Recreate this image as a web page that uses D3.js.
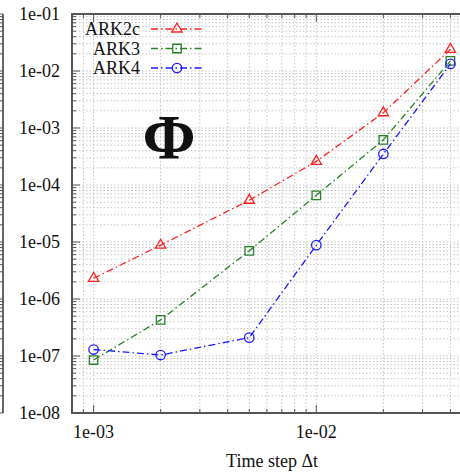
<!DOCTYPE html>
<html>
<head>
<meta charset="utf-8">
<script src="https://cdn.jsdelivr.net/npm/d3@7"></script>
<style>
  html, body { margin: 0; padding: 0; background: #fff; }
  svg { display: block; }
  text { font-family: "Liberation Serif", "DejaVu Serif", serif; fill: #111; }
</style>
</head>
<body>
<svg id="chart" width="460" height="472"></svg>
<script>
// Time steps
const steps = [1e-3, 2e-3, 5e-3, 1e-2, 2e-2, 4e-2];
// Error in Phi for each scheme
const ark2c = [2.3e-6, 8.8e-6, 5.4e-5, 2.6e-4, 1.85e-3, 2.4e-2];
const ark3  = [8.5e-8, 4.3e-7, 7.0e-6, 6.6e-5, 6.2e-4, 1.5e-2];
const ark4  = [1.3e-7, 1.04e-7, 2.1e-7, 8.8e-6, 3.5e-4, 1.33e-2];
const seriesNames = ["ARK2c", "ARK3", "ARK4"];
const xTickLabels = ["1e-03", "1e-02"];
const yTickLabels = ["1e-08", "1e-07", "1e-06", "1e-05", "1e-04", "1e-03", "1e-02", "1e-01"];

const colors = ["#f22", "#2a7f2a", "#1a1aff"];
const symbols = ["triangle", "square", "circle"];
const seriesData = [ark2c, ark3, ark4];

const svg = d3.select("#chart");
const pL = 72, pT = 14, pB = 413, pR = 472;

const x = d3.scaleLog().domain([8e-4, 5e-2]).range([pL, pR]);
const y = d3.scaleLog().domain([1e-8, 1e-1]).range([pB, pT]);

// all decade + sub-decade positions
function logTicks(lo, hi) {
  const out = [];
  for (let e = Math.floor(Math.log10(lo)); e <= Math.ceil(Math.log10(hi)); e++) {
    for (let m = 1; m <= 9; m++) {
      const v = m * Math.pow(10, e);
      if (v >= lo * 0.9999 && v <= hi * 1.0001) out.push({ v, major: m === 1 });
    }
  }
  return out;
}
const xt = logTicks(8e-4, 5e-2);
const yt = logTicks(1e-8, 1e-1);

// neighbouring panel edge on the far left
const edge = svg.append("g");
edge.append("line").attr("x1", 3).attr("x2", 3).attr("y1", pT).attr("y2", pB)
  .attr("stroke", "#333").attr("stroke-width", 1.5);
edge.selectAll("line.t").data(yt).enter().append("line")
  .attr("x1", 3).attr("x2", d => d.major ? -5 : 0)
  .attr("y1", d => y(d.v)).attr("y2", d => y(d.v))
  .attr("stroke", "#555").attr("stroke-width", 1);

// dotted grid
const grid = svg.append("g").attr("stroke", "#c4c4c4").attr("stroke-width", 1)
  .attr("stroke-dasharray", "1.5,2");
grid.selectAll("line.gx").data(xt).enter().append("line")
  .attr("x1", d => x(d.v)).attr("x2", d => x(d.v)).attr("y1", pT).attr("y2", pB);
grid.selectAll("line.gy").data(yt).enter().append("line")
  .attr("x1", pL).attr("x2", pR).attr("y1", d => y(d.v)).attr("y2", d => y(d.v));

// inward ticks on all four sides
const ticks = svg.append("g").attr("stroke", "#555").attr("stroke-width", 1);
const tl = d => d.major ? 8 : 4;
ticks.selectAll("line.bx").data(xt).enter().append("line")
  .attr("x1", d => x(d.v)).attr("x2", d => x(d.v)).attr("y1", pB).attr("y2", d => pB - tl(d));
ticks.selectAll("line.tx").data(xt).enter().append("line")
  .attr("x1", d => x(d.v)).attr("x2", d => x(d.v)).attr("y1", pT).attr("y2", d => pT + tl(d));
ticks.selectAll("line.ly").data(yt).enter().append("line")
  .attr("x1", pL).attr("x2", d => pL + tl(d)).attr("y1", d => y(d.v)).attr("y2", d => y(d.v));

// frame
svg.append("rect").attr("x", pL).attr("y", pT)
  .attr("width", pR - pL).attr("height", pB - pT)
  .attr("fill", "none").attr("stroke", "#555").attr("stroke-width", 2);

// tick labels
svg.selectAll("text.yl").data(yTickLabels).enter().append("text")
  .attr("x", 60).attr("y", d => y(+d) + 6)
  .attr("text-anchor", "end").attr("font-size", 18).text(d => d);
svg.selectAll("text.xl").data(xTickLabels).enter().append("text")
  .attr("x", d => x(+d)).attr("y", 438)
  .attr("text-anchor", "middle").attr("font-size", 18).text(d => d);

svg.append("text").attr("x", 272).attr("y", 467).attr("text-anchor", "middle")
  .attr("font-size", 18).text("Time step \u0394t");

// big Phi label
svg.append("text").attr("x", 169).attr("y", 159).attr("text-anchor", "middle")
  .attr("font-size", 64).attr("font-weight", "bold").text("\u03A6");

const dash = "7,3,1.5,3";
const symSize = { triangle: 46, square: 72, circle: 70 };
const symType = { triangle: d3.symbolTriangle, square: d3.symbolSquare, circle: d3.symbolCircle };

const line = d3.line().x(d => x(d[0])).y(d => y(d[1]));
seriesData.forEach((vals, i) => {
  const pts = steps.map((s, j) => [s, vals[j]]);
  svg.append("path").datum(pts).attr("d", line)
    .attr("fill", "none").attr("stroke", colors[i]).attr("stroke-width", 1.3)
    .attr("stroke-dasharray", dash);
  svg.selectAll(null).data(pts).enter().append("path")
    .attr("transform", d => `translate(${x(d[0])},${y(d[1])})`)
    .attr("d", d3.symbol().type(symType[symbols[i]]).size(symSize[symbols[i]]))
    .attr("fill", "none").attr("stroke", colors[i]).attr("stroke-width", 1.3);
});

// legend
const lg = svg.append("g");
seriesNames.forEach((name, i) => {
  const yy = 29 + i * 19.5;
  lg.append("text").attr("x", 140).attr("y", yy + 6).attr("text-anchor", "end")
    .attr("font-size", 18).text(name);
  lg.append("line").attr("x1", 151).attr("x2", 203).attr("y1", yy).attr("y2", yy)
    .attr("stroke", colors[i]).attr("stroke-width", 1.3).attr("stroke-dasharray", dash);
  lg.append("path").attr("transform", `translate(177,${yy})`)
    .attr("d", d3.symbol().type(symType[symbols[i]]).size(symSize[symbols[i]]))
    .attr("fill", "none").attr("stroke", colors[i]).attr("stroke-width", 1.3);
});
</script>
</body>
</html>
